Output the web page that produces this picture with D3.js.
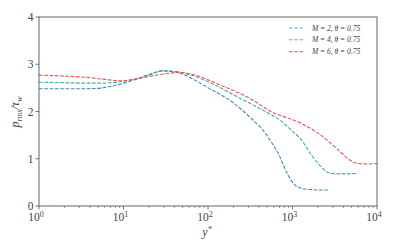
<!DOCTYPE html>
<html>
<head>
<meta charset="utf-8">
<script src="https://cdn.jsdelivr.net/npm/d3@7"></script>
<style>
  body { margin: 0; background: #fff; }
  svg text { font-family: "Liberation Serif", "DejaVu Serif", serif; }
</style>
</head>
<body>
<script>
// y* sampling and p_rms/tau_w values
const xM2 = [1, 2, 3, 5, 7, 10, 15, 20, 29, 40, 55, 74, 100, 140, 180, 250, 340, 450, 540, 675, 860, 1070, 1300, 1600, 2000, 2630]
const yM2 = [2.48, 2.48, 2.48, 2.49, 2.53, 2.60, 2.70, 2.78, 2.86, 2.84, 2.76, 2.64, 2.50, 2.36, 2.24, 2.04, 1.82, 1.60, 1.40, 1.12, 0.70, 0.44, 0.37, 0.35, 0.34, 0.34]

const xM4 = [1, 2, 3, 5, 7, 10, 15, 20, 29, 40, 55, 74, 100, 167, 240, 340, 500, 710, 1000, 1230, 1740, 2100, 2420, 2900, 4000, 6000]
const yM4 = [2.62, 2.61, 2.60, 2.60, 2.61, 2.64, 2.70, 2.77, 2.86, 2.85, 2.80, 2.73, 2.63, 2.43, 2.28, 2.14, 1.98, 1.82, 1.58, 1.43, 1.04, 0.86, 0.75, 0.69, 0.68, 0.69]

const xM6 = [1, 2, 3.8, 6, 9.3, 15, 20, 29, 47, 60, 74, 100, 140, 180, 340, 540, 1230, 2130, 3320, 4800, 6000, 8000, 10000]
const yM6 = [2.77, 2.75, 2.72, 2.68, 2.65, 2.70, 2.74, 2.79, 2.83, 2.80, 2.76, 2.67, 2.56, 2.48, 2.24, 2.01, 1.76, 1.51, 1.22, 0.97, 0.90, 0.89, 0.90]

const labels = ["M = 2, θ = 0.75", "M = 4, θ = 0.75", "M = 6, θ = 0.75"]
const colors = ["#2b7db3", "#2aa587", "#ef3d3d"]
const yTicks = [0, 1, 2, 3, 4]
const xTicks = [0, 1, 2, 3, 4] // exponents

const width = 399, height = 249
const margin = {left: 39, right: 22, top: 17, bottom: 43}

const series = [
  {x: xM2, y: yM2},
  {x: xM4, y: yM4},
  {x: xM6, y: yM6}
]

const svg = d3.select('body').append('svg')
  .attr('width', width)
  .attr('height', height)

const x = d3.scaleLog().domain([1, 1e4]).range([margin.left, width - margin.right])
const y = d3.scaleLinear().domain([0, 4]).range([height - margin.bottom, margin.top])

const axisColor = '#555'
const textColor = '#444'

// minor ticks on x
const minor = []
for (let e = 0; e < 4; e++) {
  for (let m = 2; m <= 9; m++) minor.push(m * Math.pow(10, e))
}
svg.selectAll('.minor').data(minor).enter().append('line')
  .attr('x1', d => x(d)).attr('x2', d => x(d))
  .attr('y1', y(0)).attr('y2', y(0) + 2)
  .attr('stroke', axisColor).attr('stroke-width', 0.6)

svg.selectAll('.xmajor').data(xTicks).enter().append('line')
  .attr('x1', d => x(Math.pow(10, d))).attr('x2', d => x(Math.pow(10, d)))
  .attr('y1', y(0)).attr('y2', y(0) + 3.5)
  .attr('stroke', axisColor).attr('stroke-width', 0.8)

const xl = svg.selectAll('.xlab').data(xTicks).enter().append('text')
  .attr('x', d => x(Math.pow(10, d)) - 3)
  .attr('y', y(0) + 15)
  .attr('text-anchor', 'middle')
  .attr('fill', textColor)
  .style('font-size', '11.5px')
xl.append('tspan').text('10')
xl.append('tspan').text(d => d).attr('dy', -4.5).style('font-size', '8px')

svg.selectAll('.ytick').data(yTicks).enter().append('line')
  .attr('x1', margin.left - 3.5).attr('x2', margin.left)
  .attr('y1', d => y(d)).attr('y2', d => y(d))
  .attr('stroke', axisColor).attr('stroke-width', 0.8)

svg.selectAll('.ylab').data(yTicks).enter().append('text')
  .attr('x', margin.left - 5.5)
  .attr('y', d => y(d) + 4)
  .attr('text-anchor', 'end')
  .attr('fill', textColor)
  .style('font-size', '11.5px')
  .text(d => d)

// curves
const line = d3.line()
  .x(d => x(d[0]))
  .y(d => y(d[1]))
  .curve(d3.curveMonotoneX)

series.forEach(function(s, i) {
  const pts = s.x.map((v, j) => [v, s.y[j]])
  svg.append('path')
    .attr('d', line(pts))
    .attr('fill', 'none')
    .attr('stroke', colors[i])
    .attr('stroke-width', 1.1)
    .attr('stroke-dasharray', '3.7,1.6')
    .attr('opacity', 0.9)
})

// frame
svg.append('rect')
  .attr('x', margin.left).attr('y', margin.top)
  .attr('width', width - margin.left - margin.right)
  .attr('height', height - margin.top - margin.bottom)
  .attr('fill', 'none')
  .attr('stroke', axisColor)
  .attr('stroke-width', 0.9)

// legend
const leg = svg.selectAll('.leg').data(labels).enter().append('g')
  .attr('transform', (d, i) => `translate(289, ${28 + i * 11.8})`)
leg.append('line')
  .attr('x1', 0).attr('x2', 14)
  .attr('stroke', (d, i) => colors[i])
  .attr('stroke-width', 1.1)
  .attr('stroke-dasharray', '3.7,1.6')
  .attr('opacity', 0.7)
leg.append('text')
  .attr('x', 23).attr('y', 2.5)
  .attr('fill', textColor)
  .style('font-size', '7.5px')
  .style('font-style', 'italic')
  .text(d => d)

// axis labels
const xlab = svg.append('text')
  .attr('x', 207).attr('y', 236)
  .attr('text-anchor', 'middle')
  .attr('fill', textColor)
  .style('font-size', '12px')
  .style('font-style', 'italic')
xlab.append('tspan').text('y')
xlab.append('tspan').text('*').attr('dy', -4).style('font-size', '8px')

const ylab = svg.append('text')
  .attr('transform', `translate(19, 112) rotate(-90)`)
  .attr('text-anchor', 'middle')
  .attr('fill', textColor)
  .style('font-size', '12px')
  .style('font-style', 'italic')
ylab.append('tspan').text('p')
ylab.append('tspan').text('rms').attr('dy', 2.5).style('font-size', '8px')
ylab.append('tspan').text('/τ').attr('dy', -2.5)
ylab.append('tspan').text('w').attr('dy', 2.5).style('font-size', '8px')
</script>
</body>
</html>
